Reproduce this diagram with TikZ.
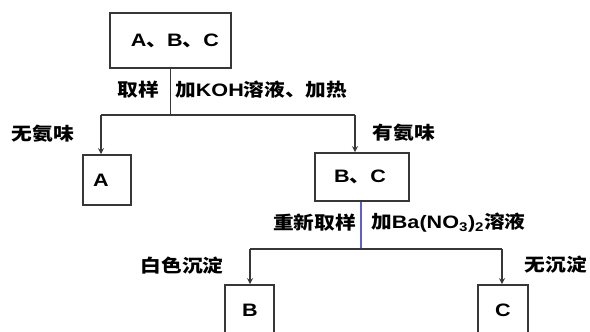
\documentclass[tikz,border=0pt]{standalone}
\usepackage{fontspec}
\setmainfont{Liberation Sans}[FakeStretch=1.2]
\newfontfamily\cjk{Noto Sans CJK SC}[FakeStretch=1.15]
\usetikzlibrary{arrows.meta}
\definecolor{lineblue}{RGB}{95,95,205}
\definecolor{linegray}{RGB}{55,55,55}
\begin{document}
\begin{tikzpicture}[x=1pt,y=-1pt,
  box/.style={draw=linegray, line width=1.6pt, inner sep=0pt},
  boxtxt/.style={inner sep=0pt, font=\fontsize{18}{20}\selectfont\bfseries},
  lbl/.style={inner sep=0pt, font=\fontsize{18}{20}\selectfont\bfseries},
  conn/.style={draw=linegray, line width=1.3pt},
  arr/.style={conn, -{Stealth[length=6pt,width=6pt]}},
  bconn/.style={draw=lineblue, line width=1.3pt}]
\useasboundingbox (0,0) rectangle (590,332);
\clip (0,0) rectangle (590,332);
% boxes
\node[box, minimum width=121pt, minimum height=55pt] (top) at (170.5,40.5) {};
\node[boxtxt] (toptxt) at (175,41) {A{\cjk 、}B{\cjk 、}C};
\node[box, minimum width=48pt, minimum height=50pt] (A) at (107,180) {};
\node[boxtxt] (Atxt) at (101,180) {A};
\node[box, minimum width=94pt, minimum height=48pt] (BC) at (362,177) {};
\node[boxtxt] (BCtxt) at (360,177) {B{\cjk 、}C};
\node[box, minimum width=49pt, minimum height=60pt] (B) at (249.5,315) {};
\node[boxtxt] (Btxt) at (250,310) {B};
\node[box, minimum width=50pt, minimum height=60pt] (C) at (503,315) {};
\node[boxtxt] (Ctxt) at (503,310) {C};
% junctions
\coordinate (j1) at (170.5,115);
\coordinate (l1) at (101,115);
\coordinate (r1) at (355,115);
\coordinate (j2) at (361,249);
\coordinate (l2) at (250,249);
\coordinate (r2) at (502,249);
% connectors
\draw[conn] (top.south) -- (j1);
\draw[conn] (l1) -- (r1);
\draw[arr] (l1) -- (A.north -| l1);
\draw[arr] (r1) -- (BC.north -| r1);
\draw[bconn] (BC.south -| j2) -- (j2);
\draw[conn] (l2) -- (r2);
\draw[arr] (l2) -- (B.north -| l2);
\draw[arr] (r2) -- (C.north -| r2);
% labels
\node[lbl] (t1) at (138,90) {\cjk 取样};
\node[lbl, anchor=west] (t2) at (175,90) {{\cjk 加}KOH{\cjk 溶液、加热}};
\node[lbl] (t3) at (43,134) {\cjk 无氨味};
\node[lbl] (t4) at (404,133) {\cjk 有氨味};
\node[lbl, anchor=east] (t5) at (356,223) {\cjk 重新取样};
\node[lbl, anchor=west] (t6) at (371,223) {{\cjk 加}Ba(NO\textsubscript{3})\textsubscript{2}{\cjk 溶液}};
\node[lbl] (t7) at (182,266) {\cjk 白色沉淀};
\node[lbl] (t8) at (556,265) {\cjk 无沉淀};
\end{tikzpicture}
\end{document}
